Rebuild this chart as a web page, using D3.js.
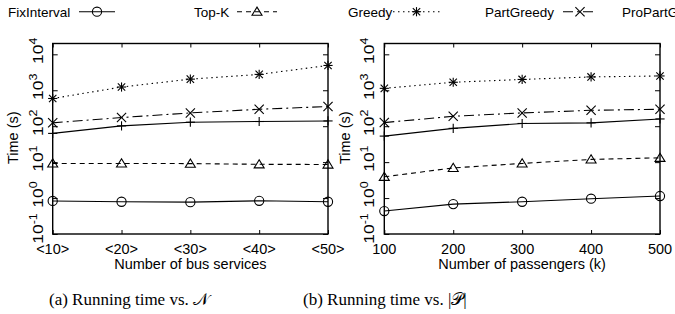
<!DOCTYPE html>
<html>
<head>
<meta charset="utf-8">
<script src="https://cdn.jsdelivr.net/npm/d3@7"></script>
<style>
  html, body { margin: 0; padding: 0; background: #fff; }
  svg { display: block; }
  text { font-family: "Liberation Sans", Arial, Helvetica, sans-serif; fill: #000; }
  .cap { font-family: "Liberation Serif", "Times New Roman", serif; }
</style>
</head>
<body>
<svg id="chart" width="675" height="314"></svg>
<script>
// ---------- data ----------
const seriesNames = ["FixInterval", "Top-K", "Greedy", "PartGreedy", "ProPartGreedy"];
const xLabelsA = ["<10>", "<20>", "<30>", "<40>", "<50>"];
const xLabelsB = ["100", "200", "300", "400", "500"];
const yTickValues = [0.1, 1, 10, 100, 1000, 10000];
const yTickExp = ["-1", "0", "1", "2", "3", "4"];

// panel (a): running time vs number of bus services
const fixA     = [0.83, 0.79, 0.77, 0.84, 0.79];
const topkA    = [9.2, 9.2, 9.1, 8.7, 8.6];
const greedyA  = [590, 1230, 2040, 2760, 4900];
const partA    = [124, 174, 234, 296, 352];
const proPartA = [63, 102, 129, 135, 140];

// panel (b): running time vs number of passengers
const fixB     = [0.435, 0.68, 0.79, 0.96, 1.14];
const topkB    = [3.9, 6.9, 9.2, 11.9, 13.2];
const greedyB  = [1130, 1670, 2000, 2350, 2500];
const partB    = [126, 189, 234, 277, 296];
const proPartB = [53, 87, 119, 124, 159];

const captionA = "(a) Running time vs. ";
const captionB = "(b) Running time vs. ";
const xTitleA = "Number of bus services";
const xTitleB = "Number of passengers (k)";
const yTitle = "Time (s)";

// ---------- styles ----------
const styles = {
  "FixInterval":   { dash: null,        marker: "circle" },
  "Top-K":         { dash: "5,4",       marker: "triangle" },
  "Greedy":        { dash: "1.5,3.5",   marker: "star" },
  "PartGreedy":    { dash: "10,4,2,4",  marker: "cross" },
  "ProPartGreedy": { dash: null,        marker: "plus" }
};

const svg = d3.select("#chart");
const plotTop = 43.5, plotBottom = 234;

function drawMarker(g, type, x, y) {
  const s = 4.6;
  const st = { stroke: "#000", "stroke-width": 1.1, fill: "none" };
  function ln(x1, y1, x2, y2) {
    const l = g.append("line").attr("x1", x1).attr("y1", y1).attr("x2", x2).attr("y2", y2);
    for (const k in st) l.attr(k, st[k]);
  }
  if (type === "circle") {
    const c = g.append("circle").attr("cx", x).attr("cy", y).attr("r", 4.6);
    for (const k in st) c.attr(k, st[k]);
  } else if (type === "triangle") {
    const p = g.append("path").attr("d", `M${x},${y - 4.6}L${x + 5},${y + 3.6}L${x - 5},${y + 3.6}Z`);
    for (const k in st) p.attr(k, st[k]);
  } else if (type === "star") {
    ln(x - s, y, x + s, y); ln(x, y - s, x, y + s);
    ln(x - s * 0.8, y - s * 0.8, x + s * 0.8, y + s * 0.8);
    ln(x - s * 0.8, y + s * 0.8, x + s * 0.8, y - s * 0.8);
  } else if (type === "cross") {
    ln(x - s, y - s, x + s, y + s); ln(x - s, y + s, x + s, y - s);
  } else if (type === "plus") {
    ln(x - s, y, x + s, y); ln(x, y - s, x, y + s);
  }
}

function panel(x0, x1, labels, data, xTitle, yTitleX, tickLabelX) {
  const g = svg.append("g");
  const x = d3.scalePoint().domain(labels).range([x0, x1]).padding(0);
  const y = d3.scaleLog().domain([0.1, 20000]).range([plotBottom, plotTop]);

  const axL = d3.axisLeft(y).tickValues(yTickValues).tickSize(-5).tickFormat("");
  const axR = d3.axisRight(y).tickValues(yTickValues).tickSize(-5).tickFormat("");
  const axB = d3.axisBottom(x).tickSize(-4).tickFormat("");
  const axT = d3.axisTop(x).tickSize(-4).tickFormat("");
  [[axL, `translate(${x0},0)`], [axR, `translate(${x1},0)`],
   [axB, `translate(0,${plotBottom})`], [axT, `translate(0,${plotTop})`]].forEach(([ax, tr]) => {
    const a = g.append("g").attr("transform", tr).call(ax);
    a.select(".domain").remove();
    a.selectAll("line").attr("stroke", "#000").attr("stroke-width", 1);
  });

  yTickValues.forEach((v, i) => {
    const t = g.append("text")
      .attr("transform", `translate(${tickLabelX},${y(v)}) rotate(-90) scale(1.25,1)`)
      .attr("font-size", 14);
    const base = t.append("tspan").text("10");
    t.append("tspan").text(yTickExp[i]).attr("font-size", 10).attr("dy", -6);
    const w = base.node().getComputedTextLength();
    t.attr("x", -w / 2);
  });

  labels.forEach(l => {
    g.append("text").attr("x", x(l)).attr("y", 254).attr("text-anchor", "middle")
      .attr("font-size", 14.5).text(l);
  });

  g.append("text").attr("x", (x0 + x1) / 2).attr("y", 268.5).attr("text-anchor", "middle")
    .attr("font-size", 14.5).text(xTitle);
  g.append("text").attr("transform", `translate(${yTitleX},${(plotTop + plotBottom) / 2 - 1}) rotate(-90)`)
    .attr("text-anchor", "middle").attr("font-size", 14.5).text(yTitle);

  const line = d3.line().x((d, i) => x(labels[i])).y(d => y(d));
  seriesNames.forEach((name, k) => {
    const vals = data[k];
    const st = styles[name];
    g.append("path").datum(vals).attr("d", line)
      .attr("fill", "none").attr("stroke", "#000").attr("stroke-width", 1.1)
      .attr("stroke-dasharray", st.dash);
    const mg = g.append("g");
    vals.forEach((v, i) => drawMarker(mg, st.marker, x(labels[i]), y(v)));
  });

  g.append("rect").attr("x", x0).attr("y", plotTop).attr("width", x1 - x0).attr("height", plotBottom - plotTop)
    .attr("fill", "none").attr("stroke", "#000").attr("stroke-width", 1.4);
}

panel(52.7, 328, xLabelsA, [fixA, topkA, greedyA, partA, proPartA], xTitleA, 18, 43);
panel(384.3, 660, xLabelsB, [fixB, topkB, greedyB, partB, proPartB], xTitleB, 350, 373.5);

const legendPos = [
  { tx: 8,   lx1: 79,  lx2: 115 },
  { tx: 194, lx1: 237, lx2: 277 },
  { tx: 348, lx1: 393, lx2: 440 },
  { tx: 485, lx1: 563, lx2: 597 },
  { tx: 622, lx1: 715, lx2: 750 }
];
seriesNames.forEach((name, k) => {
  const p = legendPos[k];
  const st = styles[name];
  svg.append("text").attr("x", p.tx).attr("y", 16.5).attr("font-size", 13.5).text(name);
  svg.append("line").attr("x1", p.lx1).attr("x2", p.lx2).attr("y1", 11.7).attr("y2", 11.7)
    .attr("stroke", "#000").attr("stroke-width", 1.1).attr("stroke-dasharray", st.dash);
  drawMarker(svg.append("g"), st.marker, (p.lx1 + p.lx2) / 2, 11.7);
});

const cA = svg.append("text").attr("class", "cap").attr("x", 49).attr("y", 305).attr("font-size", 17);
cA.append("tspan").text(captionA);
cA.append("tspan").text("𝒩");
const cB = svg.append("text").attr("class", "cap").attr("x", 303).attr("y", 305).attr("font-size", 17);
cB.append("tspan").text(captionB);
cB.append("tspan").text("|𝒫|");
</script>
</body>
</html>
